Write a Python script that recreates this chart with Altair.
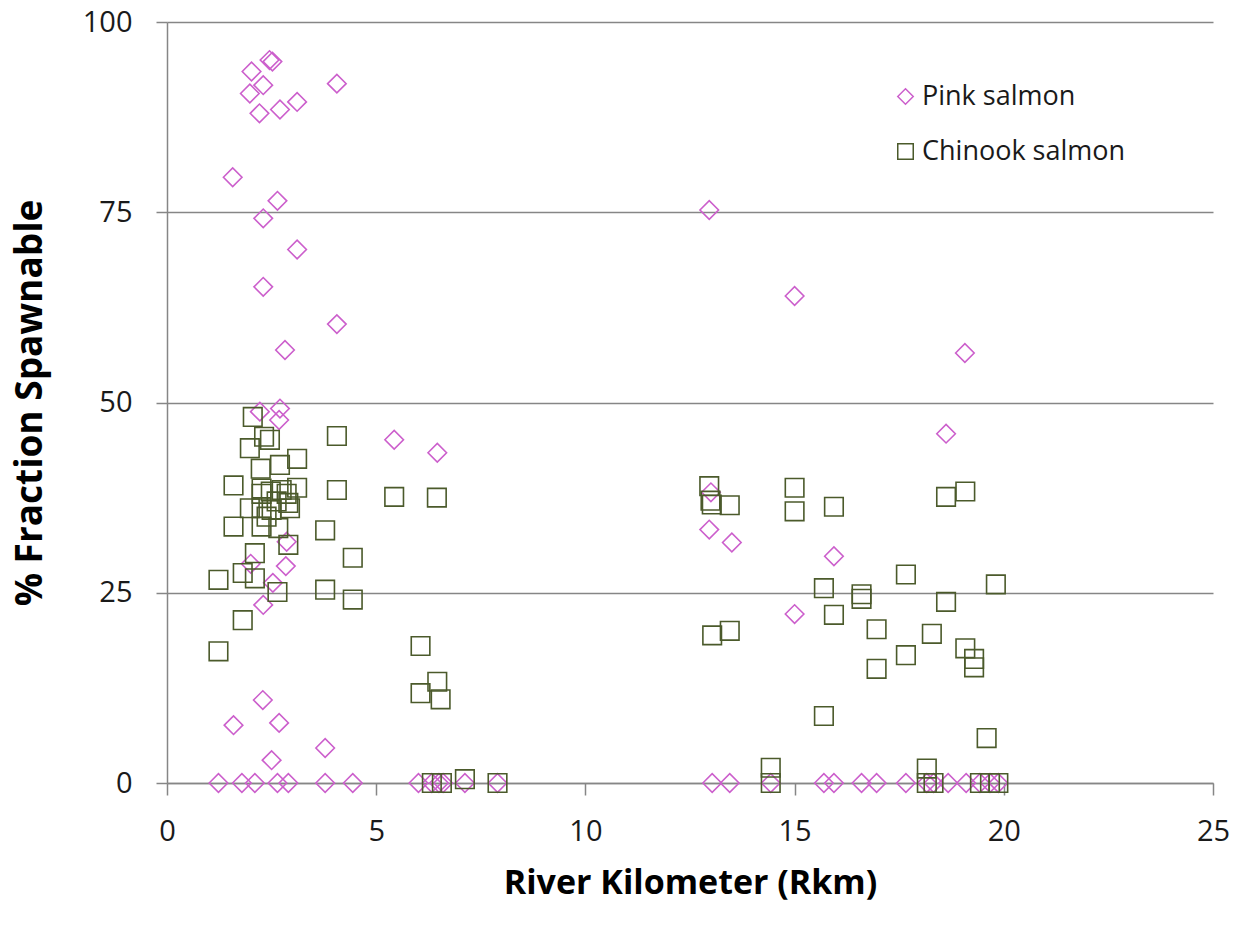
import altair as alt
import pandas as pd

# Pink salmon: river kilometer and percent spawnable
pink_rkm = [2.45, 2.52, 2.02, 2.30, 1.98, 4.06, 2.21, 2.70, 3.11, 1.57, 2.64, 2.30, 3.11, 2.30,
            4.06, 2.82, 2.22, 2.70, 2.68, 2.86, 2.00, 2.84, 2.53, 2.30, 2.29, 1.59, 2.68, 3.78,
            2.50, 1.23, 1.79, 2.10, 2.64, 2.90, 3.78, 4.44,
            5.43, 6.46, 6.01, 6.33, 6.50, 6.60, 7.12, 7.90,
            12.96, 15.00, 13.00, 12.96, 13.50, 15.94, 15.00, 18.62, 19.07,
            13.03, 13.45, 14.43, 15.70, 15.94, 16.60, 16.96, 17.66, 18.16, 18.32, 18.67, 19.10,
            19.43, 19.67, 19.87]
pink_pct = [95.0, 94.8, 93.5, 91.7, 90.6, 91.9, 88.0, 88.5, 89.5, 79.6, 76.5, 74.2, 70.1, 65.2,
            60.3, 56.9, 48.8, 49.2, 47.7, 31.7, 28.8, 28.5, 26.3, 23.4, 10.9, 7.6, 7.9, 4.6,
            3.0, 0, 0, 0, 0, 0, 0, 0,
            45.1, 43.4, 0, 0, 0, 0, 0, 0,
            75.3, 64.0, 38.2, 33.3, 31.6, 29.8, 22.2, 45.9, 56.5,
            0, 0, 0, 0, 0, 0, 0, 0, 0, 0, 0, 0,
            0, 0, 0]

# Chinook salmon: river kilometer and percent spawnable
chinook_rkm = [2.05, 4.06, 2.32, 2.46, 1.98, 3.11, 2.70, 2.24, 1.59, 3.11, 4.06, 2.26, 2.48, 2.74,
               2.86, 2.26, 2.62, 2.90, 2.26, 1.98, 2.50, 2.94, 2.38, 1.59, 2.26, 2.66, 3.78, 2.90,
               2.10, 4.44, 1.23, 1.81, 2.10, 2.64, 3.78, 4.44, 1.81, 1.23,
               5.43, 6.45, 6.06, 6.46, 6.06, 6.54, 6.33, 6.57, 7.12, 7.90,
               12.96, 12.99, 13.02, 13.45, 15.00, 15.00, 15.94, 15.70, 16.60, 16.60, 15.94, 13.03,
               13.45, 16.96, 16.96, 15.70, 14.43, 14.43, 17.66, 17.66, 18.62, 19.08, 19.81, 18.62,
               18.28, 19.08, 19.29, 19.29, 19.59, 18.16, 18.16, 18.32, 19.43, 19.67, 19.87]
chinook_pct = [48.1, 45.6, 45.5, 45.1, 44.0, 42.6, 41.8, 41.3, 39.1, 38.8, 38.5, 38.7, 38.3, 38.5,
               38.0, 38.0, 37.0, 36.8, 36.1, 36.1, 35.9, 36.1, 35.0, 33.7, 33.7, 33.5, 33.2, 31.3,
               30.2, 29.6, 26.7, 27.6, 26.9, 25.1, 25.4, 24.1, 21.4, 17.3,
               37.6, 37.5, 18.0, 13.3, 11.8, 11.0, 0, 0, 0.5, 0,
               39.0, 37.1, 36.6, 36.5, 38.8, 35.7, 36.3, 25.6, 24.8, 24.2, 22.1, 19.4,
               20.0, 20.2, 15.0, 8.8, 2.0, 0, 27.4, 16.8, 37.6, 38.3, 26.1, 23.8,
               19.6, 17.7, 16.3, 15.2, 5.9, 1.9, 0, 0, 0, 0, 0]

species = ["Pink salmon", "Chinook salmon"]

df = pd.concat([
    pd.DataFrame({"rkm": pink_rkm, "pct": pink_pct, "species": species[0], "order": 0}),
    pd.DataFrame({"rkm": chinook_rkm, "pct": chinook_pct, "species": species[1], "order": 1}),
], ignore_index=True)

FONT = "Open Sans"
AXIS_GRAY = "#868686"

legend = alt.Legend(title=None, orient="none", legendX=725, legendY=61, labelLimit=400)

chart = alt.Chart(df).mark_point(filled=False, size=345, strokeWidth=1.6, opacity=1).encode(
    x=alt.X("rkm:Q", title="River Kilometer (Rkm)",
            scale=alt.Scale(domain=[0, 25], nice=False),
            axis=alt.Axis(values=[0, 5, 10, 15, 20, 25], grid=False, tickSize=12,
                          labelFlush=False, labelPadding=22, titlePadding=20,
                          titleFontSize=34)),
    y=alt.Y("pct:Q", title="% Fraction Spawnable",
            scale=alt.Scale(domain=[0, 100], nice=False),
            axis=alt.Axis(values=[0, 25, 50, 75, 100], grid=True, tickSize=11,
                          labelFlush=False, labelPadding=24, titlePadding=33,
                          titleFontSize=37)),
    shape=alt.Shape("species:N", scale=alt.Scale(domain=species, range=["diamond", "square"]),
                    legend=legend),
    color=alt.Color("species:N", scale=alt.Scale(domain=species, range=["#CC5FCC", "#4B5A2B"]),
                    legend=legend),
    order=alt.Order("order:Q"),
).properties(
    width=1046, height=761,
    autosize=alt.AutoSizeParams(type="none"),
    padding={"left": 167, "top": 22, "right": 31, "bottom": 154},
).configure(
    background="white"
).configure_view(
    stroke=None
).configure_axis(
    domainColor=AXIS_GRAY, domainWidth=1.5, tickColor=AXIS_GRAY, tickWidth=1.5,
    gridColor=AXIS_GRAY, gridWidth=1.5, gridOpacity=1,
    labelFont=FONT, labelFontSize=29, labelColor="#1a1a1a",
    titleFont=FONT, titleFontWeight="bold", titleColor="#000000",
).configure_legend(
    labelFont=FONT, labelFontSize=27, labelColor="#1a1a1a", labelOffset=3,
    symbolSize=240, symbolStrokeWidth=1.5, rowPadding=27,
)

chart.save("out.html", embed_options={"renderer": "svg", "actions": False})
